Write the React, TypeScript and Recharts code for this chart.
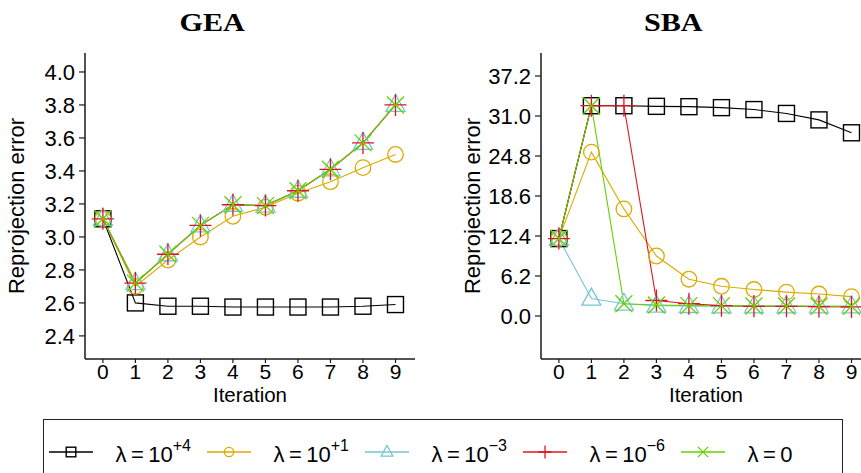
import React from 'react';
import { LineChart, Line, XAxis, YAxis, Label } from 'recharts';

// ---------- data ----------
const iterations = [0, 1, 2, 3, 4, 5, 6, 7, 8, 9];

const seriesKeys = ['l4', 'l1', 'lm3', 'lm6', 'l0'];
const seriesShapes = ['square', 'circle', 'triangle', 'plus', 'cross'];
const seriesColors = ['#000000', '#DDAA00', '#74C6D4', '#E3141C', '#62D200'];
const legendBase = ['10', '10', '10', '10', '0'];
const legendExp = ['+4', '+1', '\u22123', '\u22126', ''];

// GEA panel
const geaL4 = [3.11, 2.6, 2.58, 2.58, 2.575, 2.575, 2.575, 2.575, 2.58, 2.59];
const geaL1 = [3.11, 2.7, 2.86, 3.0, 3.125, 3.18, 3.265, 3.335, 3.42, 3.5];
const geaLm3 = [3.11, 2.72, 2.895, 3.07, 3.195, 3.19, 3.28, 3.41, 3.57, 3.8];
const geaLm6 = [3.11, 2.72, 2.895, 3.07, 3.195, 3.19, 3.28, 3.41, 3.57, 3.8];
const geaL0 = [3.11, 2.72, 2.895, 3.07, 3.195, 3.19, 3.28, 3.41, 3.57, 3.8];
const geaTicks = [2.4, 2.6, 2.8, 3.0, 3.2, 3.4, 3.6, 3.8, 4.0];

// SBA panel
const sbaL4 = [12.0, 32.6, 32.6, 32.5, 32.45, 32.3, 32.0, 31.4, 30.4, 28.4];
const sbaL1 = [12.0, 25.4, 16.6, 9.3, 5.7, 4.6, 4.1, 3.7, 3.4, 3.0];
const sbaLm3 = [12.0, 2.7, 1.9, 1.6, 1.55, 1.5, 1.5, 1.5, 1.5, 1.5];
const sbaLm6 = [12.0, 32.6, 32.6, 2.4, 1.9, 1.6, 1.5, 1.5, 1.45, 1.4];
const sbaL0 = [12.0, 32.6, 1.9, 1.7, 1.6, 1.6, 1.55, 1.55, 1.5, 1.5];
const sbaTicks = [0.0, 6.2, 12.4, 18.6, 24.8, 31.0, 37.2];

const buildRows = (cols: number[][]) =>
  iterations.map((it, i) => {
    const row: any = { it };
    seriesKeys.forEach((k, j) => (row[k] = cols[j][i]));
    return row;
  });

const geaData = buildRows([geaL4, geaL1, geaLm3, geaLm6, geaL0]);
const sbaData = buildRows([sbaL4, sbaL1, sbaLm3, sbaLm6, sbaL0]);

// ---------- styling ----------
const SANS = '"Liberation Sans", Arial, Helvetica, sans-serif';
const SERIF = '"Liberation Serif", "DejaVu Serif", serif';
const AXIS = '#1a1a1a';

const markerPath = (shape: string, cx: number, cy: number, s: number) => {
  switch (shape) {
    case 'plus':
      return `M${cx - 11 * s},${cy}H${cx + 11 * s}M${cx},${cy - 11 * s}V${cy + 11 * s}`;
    case 'cross':
      return `M${cx - 8.5 * s},${cy - 8.5 * s}L${cx + 8.5 * s},${cy + 8.5 * s}M${cx - 8.5 * s},${cy + 8.5 * s}L${cx + 8.5 * s},${cy - 8.5 * s}`;
    case 'triangle':
      return `M${cx},${cy - 10.5 * s}L${cx - 9.5 * s},${cy + 6.5 * s}L${cx + 9.5 * s},${cy + 6.5 * s}Z`;
    default:
      return '';
  }
};

const Marker = ({ shape, color, cx, cy, s = 1 }: any) => {
  if (shape === 'square')
    return (
      <rect x={cx - 8 * s} y={cy - 8 * s} width={16 * s} height={16 * s} fill="none" stroke={color} strokeWidth={1.4} />
    );
  if (shape === 'circle') return <circle cx={cx} cy={cy} r={7.8 * s} fill="none" stroke={color} strokeWidth={1.3} />;
  return <path d={markerPath(shape, cx, cy, s)} fill="none" stroke={color} strokeWidth={1.3} />;
};

const makeDot = (shape: string, color: string) => (props: any) => {
  const { cx, cy, index } = props;
  if (cx == null || cy == null) return <g key={`d${index}`} />;
  return (
    <g key={`d${index}`}>
      <Marker shape={shape} color={color} cx={cx} cy={cy} />
    </g>
  );
};

const renderYLabel = (props: any) => {
  const vb = props.viewBox || {};
  const x = vb.x - 6;
  const y = vb.y + vb.height / 2;
  return (
    <text x={x} y={y} transform={`rotate(-90, ${x}, ${y})`} textAnchor="middle" fontSize={22} fontFamily={SANS} fill="#000">
      Reprojection error
    </text>
  );
};

const renderXLabel = (props: any) => {
  const vb = props.viewBox || {};
  return (
    <text x={vb.x + vb.width / 2} y={vb.y + 43} textAnchor="middle" fontSize={20.5} fontFamily={SANS} fill="#000">
      Iteration
    </text>
  );
};

const Panel = ({ data, width, margin, yDomain, yTicks }: any) => (
  <LineChart width={width} height={420} data={data} margin={margin}>
    <XAxis
      dataKey="it"
      type="number"
      domain={[-0.55, 9.6]}
      allowDataOverflow
      ticks={iterations}
      interval={0}
      height={61}
      tickSize={4}
      tickMargin={1}
      stroke={AXIS}
      strokeWidth={1.5}
      tick={{ fontSize: 21, fontFamily: SANS, fill: '#000' }}
      tickLine={{ stroke: AXIS, strokeWidth: 1.2 }}
    >
      <Label content={renderXLabel} />
    </XAxis>
    <XAxis xAxisId="top" orientation="top" type="number" domain={[0, 1]} height={0} tick={false} tickLine={false} stroke={AXIS} strokeWidth={1.5} />
    <YAxis
      type="number"
      domain={yDomain}
      allowDataOverflow
      ticks={yTicks}
      interval={0}
      width={55}
      tickSize={6}
      tickMargin={4}
      tickFormatter={(v: number) => v.toFixed(1)}
      stroke={AXIS}
      strokeWidth={1.5}
      tick={{ fontSize: 22, fontFamily: SANS, fill: '#000' }}
      tickLine={{ stroke: AXIS, strokeWidth: 1.2 }}
    >
      <Label content={renderYLabel} />
    </YAxis>
    <YAxis yAxisId="right" orientation="right" type="number" domain={[0, 1]} width={0} tick={false} tickLine={false} stroke={AXIS} strokeWidth={1.5} />
    {seriesKeys.map((k, j) => (
      <Line
        key={k}
        dataKey={k}
        type="linear"
        stroke={seriesColors[j]}
        strokeWidth={1.1}
        dot={makeDot(seriesShapes[j], seriesColors[j])}
        activeDot={false}
        isAnimationActive={false}
      />
    ))}
  </LineChart>
);

const LegendItem = ({ j }: any) => (
  <div style={{ display: 'flex', alignItems: 'center', width: 158, flex: 'none' }}>
    <svg width={44} height={20} style={{ flex: 'none' }}>
      <line x1={0} y1={10} x2={44} y2={10} stroke={seriesColors[j]} strokeWidth={1.3} />
      <Marker shape={seriesShapes[j]} color={seriesColors[j]} cx={22} cy={10} s={j === 2 ? 0.62 : 0.6} />
    </svg>
    <span style={{ marginLeft: 23, position: 'relative', top: 3, whiteSpace: 'nowrap', fontFamily: SANS, fontSize: 22, color: '#000' }}>
      {'\u03bb\u2009=\u2009' + legendBase[j]}
      {legendExp[j] ? <span style={{ fontSize: 16, position: 'relative', top: -11 }}>{legendExp[j]}</span> : null}
    </span>
  </div>
);

const titleStyle = (center: number): React.CSSProperties => ({
  position: 'absolute',
  left: center - 100,
  width: 200,
  top: 7,
  textAlign: 'center',
  fontFamily: SERIF,
  fontWeight: 'bold',
  fontSize: 26,
  lineHeight: '32px',
  color: '#000',
});

const Title = ({ center, text }: any) => (
  <div style={titleStyle(center)}>
    <span style={{ display: 'inline-block', transform: 'scaleX(1.16)', transformOrigin: 'center' }}>{text}</span>
  </div>
);

export default function App() {
  return (
    <div style={{ position: 'absolute', left: 0, top: 0, width: 861, height: 473, overflow: 'hidden', background: '#fff' }}>
      <Title center={212} text="GEA" />
      <Title center={673} text="SBA" />
      <div style={{ position: 'absolute', left: 0, top: 0 }}>
        <Panel data={geaData} width={430} margin={{ top: 53, right: 15, bottom: 0, left: 30 }} yDomain={[2.26, 4.115]} yTicks={geaTicks} />
      </div>
      <div style={{ position: 'absolute', left: 430, top: 0 }}>
        <Panel data={sbaData} width={441} margin={{ top: 53, right: 0, bottom: 0, left: 56 }} yDomain={[-6.67, 40.77]} yTicks={sbaTicks} />
      </div>
      <div
        style={{
          position: 'absolute',
          left: 43,
          top: 419,
          width: 800,
          height: 70,
          border: '1.5px solid #222',
          boxSizing: 'border-box',
        }}
      >
        <div style={{ position: 'absolute', left: 4.5, top: 18.5, display: 'flex' }}>
          {seriesKeys.map((k, j) => (
            <LegendItem key={k} j={j} />
          ))}
        </div>
      </div>
    </div>
  );
}
